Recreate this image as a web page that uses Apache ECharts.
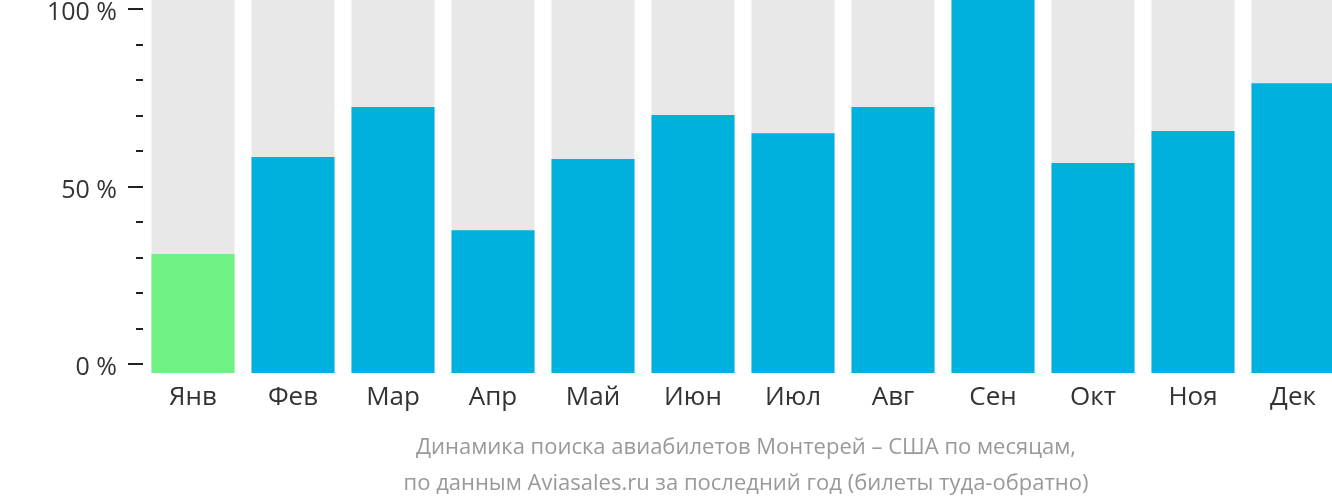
<!DOCTYPE html>
<html><head><meta charset="utf-8">
<script src="https://cdn.jsdelivr.net/npm/echarts@6/dist/echarts.min.js"></script>
<style>html,body{margin:0;padding:0;background:#fff}#c{width:1332px;height:502px}</style>
</head><body><div id="c"></div>
<script>
const categories = ['Янв','Фев','Мар','Апр','Май','Июн','Июл','Авг','Сен','Окт','Ноя','Дек'];
const values = [31.9, 57.9, 71.3, 38.3, 57.4, 69.2, 64.3, 71.3, 100, 56.3, 64.9, 77.7];
const yTickLabels = {0: '0 %', 50: '50 %', 100: '100 %'};
const titleLines = ['Динамика поиска авиабилетов Монтерей – США по месяцам,', 'по данным Aviasales.ru за последний год (билеты туда-обратно)'];

const minIdx = values.indexOf(Math.min(...values));
const chart = echarts.init(document.getElementById('c'));
const font = '"Open Sans", "Noto Sans", sans-serif';
chart.setOption({
  animation: false,
  title: {
    text: titleLines.join('\n'),
    left: 741, top: 425, textAlign: 'center',
    textStyle: {fontFamily: font, fontWeight: 'normal', fontSize: 22, lineHeight: 36, color: '#999'}
  },
  grid: [
    {left: 143, top: 0, width: 1200, height: 373, outerBoundsMode: 'none', containLabel: false},
    {left: 143, top: 9, width: 1200, height: 355, outerBoundsMode: 'none', containLabel: false}
  ],
  xAxis: [
    {type: 'category', gridIndex: 0, data: categories,
     axisLine: {show: false}, axisTick: {show: false},
     axisLabel: {margin: 12, fontSize: 26, color: '#333', fontFamily: font}},
    {type: 'category', gridIndex: 1, data: categories, show: false}
  ],
  yAxis: [
    {type: 'value', gridIndex: 0, min: 0, max: 100, show: false},
    {type: 'value', gridIndex: 1, min: 0, max: 100, interval: 50,
     axisLine: {show: false}, splitLine: {show: false},
     axisTick: {show: true, length: 15, lineStyle: {color: '#222', width: 2}},
     minorTick: {show: true, splitNumber: 5, length: 7, lineStyle: {color: '#222', width: 2}},
     axisLabel: {margin: 26, color: '#333', fontFamily: font,
       formatter: v => '{v|' + (yTickLabels[v] || '') + '}',
       rich: {v: {fontSize: 25, color: '#333', fontFamily: font, padding: [8, 0, 0, 0]}}}}
  ],
  series: [
    {type: 'bar', xAxisIndex: 0, yAxisIndex: 0, data: values,
     barCategoryGap: '17%',
     showBackground: true, backgroundStyle: {color: '#e8e8e8'},
     itemStyle: {color: p => p.dataIndex === minIdx ? '#6ef284' : '#00b0dd'}},
    {type: 'line', xAxisIndex: 1, yAxisIndex: 1, data: [], silent: true}
  ]
});
</script></body></html>
